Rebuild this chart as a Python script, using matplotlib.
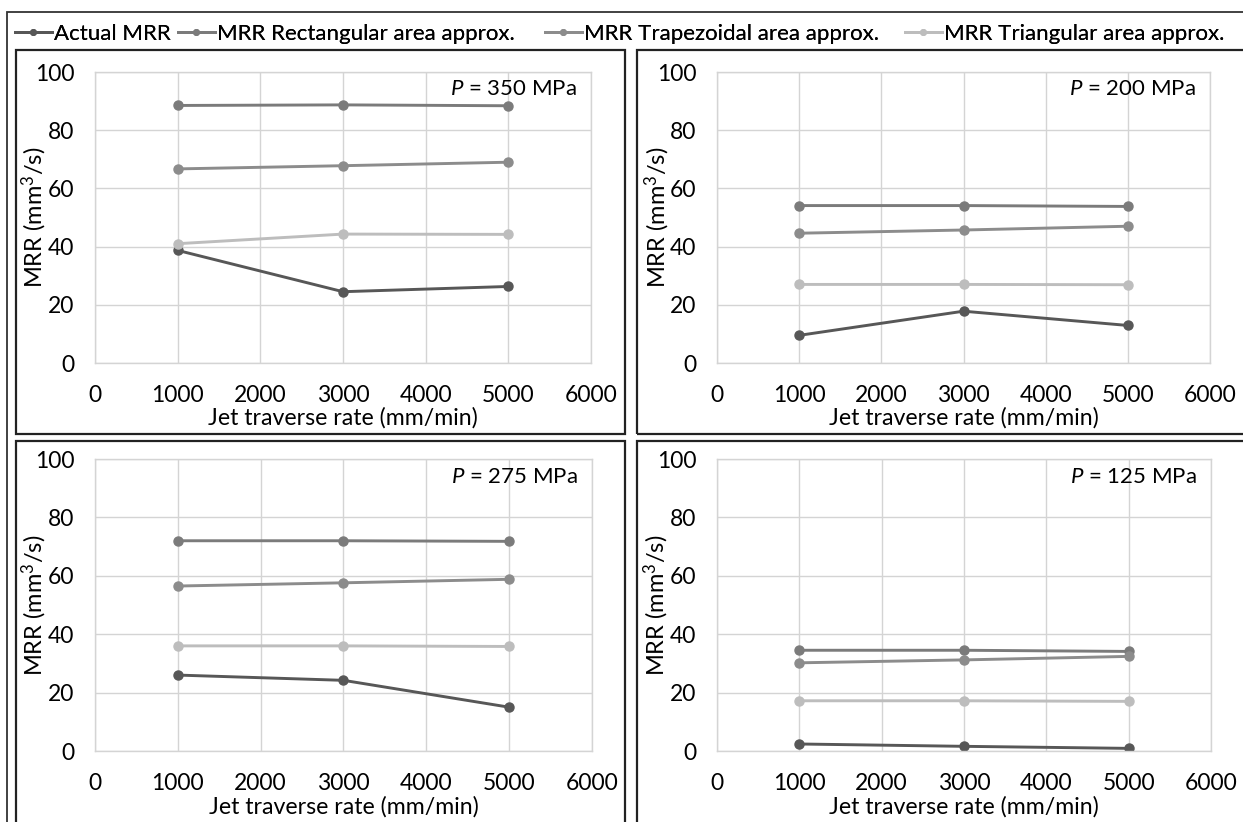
import matplotlib.pyplot as plt
from matplotlib.patches import Rectangle
from matplotlib.lines import Line2D

plt.rcParams['font.family'] = ['Lato', 'DejaVu Sans']
plt.rcParams['mathtext.fontset'] = 'custom'
plt.rcParams['mathtext.rm'] = 'Lato'
plt.rcParams['mathtext.it'] = 'Lato:italic'

# data
traverse = [1000, 3000, 5000]
series_names = ['Actual MRR', 'MRR Rectangular area approx.',
                'MRR Trapezoidal area approx.', 'MRR Triangular area approx.']
colors = ['#575757', '#7b7b7b', '#8c8c8c', '#bdbdbd']

p350 = [[38.7, 24.5, 26.3], [88.5, 88.7, 88.4], [66.7, 67.8, 69.0], [41.0, 44.3, 44.2]]
p200 = [[9.5, 17.8, 12.9], [54.1, 54.1, 53.8], [44.6, 45.7, 47.0], [27.0, 27.0, 26.9]]
p275 = [[26.0, 24.2, 15.0], [72.0, 72.0, 71.8], [56.5, 57.6, 58.8], [36.0, 36.0, 35.8]]
p125 = [[2.4, 1.6, 0.9], [34.5, 34.5, 34.1], [30.2, 31.2, 32.4], [17.2, 17.2, 17.0]]

panels = [('350', p350), ('200', p200), ('275', p275), ('125', p125)]

W, H = 1243, 822
fig = plt.figure(figsize=(W / 100, H / 100), dpi=100)

def box(x0, y0, x1, y1, lw=1.6, col='#222222'):
    fig.add_artist(Rectangle((x0 / W, 1 - y1 / H), (x1 - x0) / W, (y1 - y0) / H,
                             transform=fig.transFigure, fill=False, lw=lw, ec=col))

box(7, 12, 1260, 840, lw=1.3, col='#333333')
box(16, 50, 625, 434)
box(637, 50, 1260, 434)
box(16, 441, 625, 840)
box(637, 441, 1260, 840)

# plot areas in pixels: left, right, top, bottom
areas = [(95, 591, 72, 363), (717, 1210, 72, 363),
         (95, 592, 459, 751), (717, 1211, 459, 751)]

fs = 16.5
for (pres, vals), (l, r, t, b) in zip(panels, areas):
    ax = fig.add_axes([l / W, 1 - b / H, (r - l) / W, (b - t) / H])
    for v, c, name in zip(vals, colors, series_names):
        ax.plot(traverse, v, color=c, lw=2.1, marker='o', ms=6.5, label=name)
    ax.set_xlim(0, 6000)
    ax.set_ylim(0, 100)
    ax.set_xticks(range(0, 6001, 1000))
    ax.set_yticks(range(0, 101, 20))
    ax.grid(True, color='#d4d4d4', lw=1)
    ax.set_axisbelow(True)
    for s in ax.spines.values():
        s.set_color('#d4d4d4')
        s.set_linewidth(1)
    ax.tick_params(length=0, labelsize=fs, colors='black')
    ax.tick_params(axis='x', pad=16)
    ax.tick_params(axis='y', pad=15)
    ax.set_xlabel('Jet traverse rate (mm/min)', fontsize=16.7, va='center')
    ax.xaxis.set_label_coords(0.5, -0.19)
    ax.set_ylabel('MRR (mm$^3$/s)', fontsize=17, va='center')
    ax.yaxis.set_label_coords(-0.122, 0.5)
    ax.text(0.972, 0.94, '$P$ = ' + pres + ' MPa', transform=ax.transAxes,
            ha='right', va='center', fontsize=16)

# legend entries placed along the top row
leg_x = [15, 178, 545, 905]
for name, c, x in zip(series_names, colors, leg_x):
    h = Line2D([], [], color=c, lw=2.1, marker='o', ms=4)
    lg = fig.legend([h], [name], loc='center left', bbox_to_anchor=(x / W, 1 - 34 / H),
                    frameon=False, fontsize=16, handlelength=1.65, handletextpad=0.12,
                    borderpad=0, borderaxespad=0)
    fig.add_artist(lg)

fig.savefig('out.png', dpi=100)
